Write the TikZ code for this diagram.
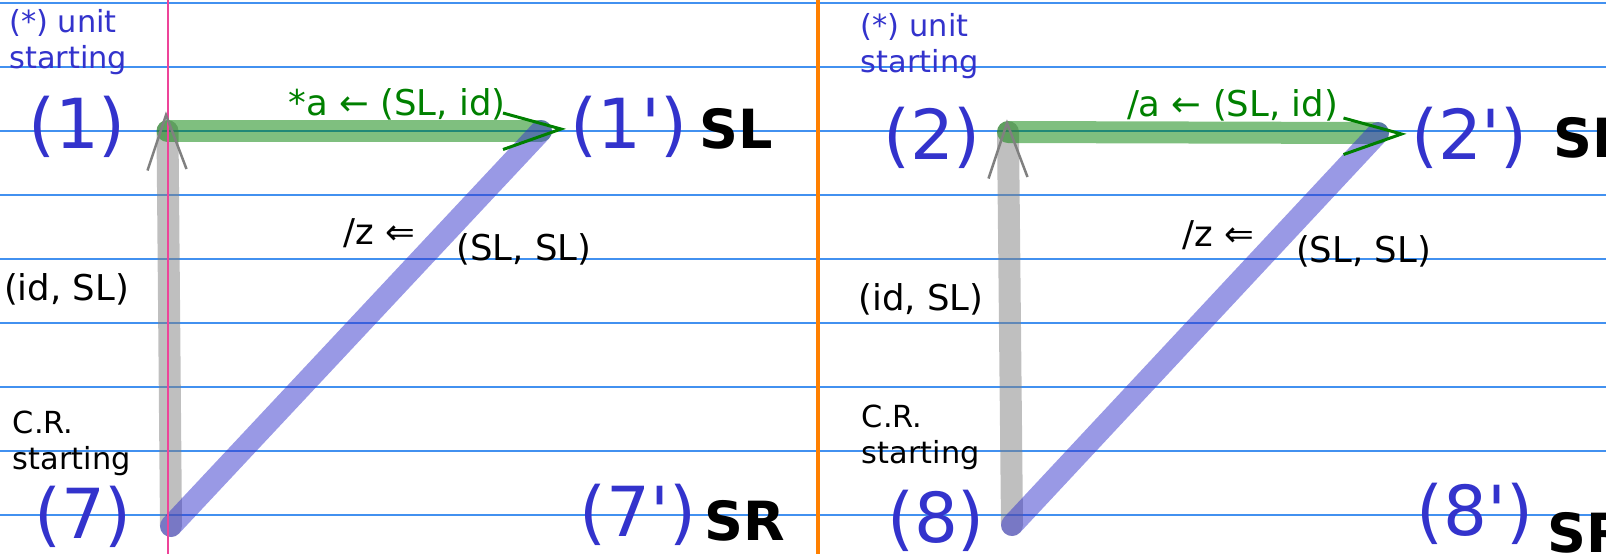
\documentclass[tikz,border=0pt]{standalone}
\usepackage{fontspec}
\setmainfont{DejaVu Sans}[Ligatures=TeXOff]
\definecolor{labelblue}{RGB}{51,51,204}
\definecolor{darkgreen}{RGB}{0,128,0}
\definecolor{ruleblue}{RGB}{66,145,240}
\definecolor{marginpink}{RGB}{238,68,153}
\definecolor{edgeorange}{RGB}{255,128,0}

\begin{document}
\begin{tikzpicture}[x=0.5pt,y=-0.5pt,
  rule/.style={ruleblue, line width=0.8pt},
  band/.style={line width=11pt, line cap=round, opacity=0.5},
  head/.style={line width=1.5pt},
  bignum/.style={anchor=base, inner sep=0pt, text=labelblue, font={\fontsize{34.5}{40}\selectfont}},
  side/.style={anchor=base, inner sep=0pt, font={\fontsize{27}{32}\selectfont\bfseries}},
  edgelab/.style={anchor=base, inner sep=0pt, font={\fontsize{17.75}{21}\selectfont}},
  note/.style={anchor=base west, inner sep=0pt, align=left, font={\fontsize{15.2}{18}\selectfont}}]
\useasboundingbox (0,0) rectangle (1606,554);
\clip (0,0) rectangle (1606,554);
\foreach \y in {3,67,...,515} \draw[rule] (0,\y) -- (1606,\y);
\draw[edgeorange, line width=2pt] (818,0) -- (818,554);
% left panel
\coordinate (v1) at (167.5,131);
\coordinate (v1p) at (541,131);
\coordinate (v7) at (171,526);
\coordinate (t1) at (561,129);
\coordinate (g1) at (166,115);
\draw[band, gray] (v7) -- (v1);
\draw[band, darkgreen] (v1) -- (v1p);
\draw[band, labelblue] (v7) -- (v1p);
\draw[marginpink, line width=1pt] (168,0) -- (168,554);
\draw[head, darkgreen] (t1) ++(-58,-16) -- (t1) -- ++(-58,20.5);
\draw[head, gray, line width=1.25pt] (g1) ++(-18.5,55.5) -- (g1) -- ++(20.5,54);
\node[note, text=labelblue] (u1) at (9,68) {(*) unit\\starting};
\node[note] (c1) at (12.5,469) {C.R.\\starting};
\node[bignum] (n1) at (77,148) {(1)};
\node[bignum] (n1p) at (629,148) {(1')};
\node[side] (sl1) at (736,148.5) {SL};
\node[bignum] (n7) at (83,538) {(7)};
\node[bignum] (n7p) at (638,536) {(7')};
\node[side] (sr1) at (745,540) {SR};
\node[edgelab, text=darkgreen] (ga1) at (397,115.5) {*a ← (SL, id)};
\node[edgelab] (lz1) at (379.5,244) {/z ⇐};
\node[edgelab] (ls1) at (524,260.5) {(SL, SL)};
\node[edgelab] (li1) at (66.5,300.5) {(id, SL)};
% right panel
\coordinate (v2) at (1008,132);
\coordinate (v2p) at (1378,133);
\coordinate (v8) at (1012,525);
\coordinate (t2) at (1401.5,134);
\coordinate (g2) at (1007,123);
\draw[band, gray] (v8) -- (v2);
\draw[band, darkgreen] (v2) -- (v2p);
\draw[band, labelblue] (v8) -- (v2p);
\draw[head, darkgreen] (t2) ++(-58,-16) -- (t2) -- ++(-58,20.5);
\draw[head, gray, line width=1.25pt] (g2) ++(-18.5,55.5) -- (g2) -- ++(20.5,54);
\node[note, text=labelblue] (u2) at (860.5,72) {(*) unit\\starting};
\node[note] (c2) at (861.5,463) {C.R.\\starting};
\node[bignum] (n2) at (932,159.5) {(2)};
\node[bignum] (n2p) at (1469.5,159.5) {(2')};
\node[side] (sl2) at (1590,157) {SL};
\node[bignum] (n8) at (936,542) {(8)};
\node[bignum] (n8p) at (1475,535) {(8')};
\node[side] (sr2) at (1588,552) {SR};
\node[edgelab, text=darkgreen] (ga2) at (1232.5,116) {/a ← (SL, id)};
\node[edgelab] (lz2) at (1218,246.5) {/z ⇐};
\node[edgelab] (ls2) at (1363.5,262) {(SL, SL)};
\node[edgelab] (li2) at (921,310) {(id, SL)};
\end{tikzpicture}
\end{document}
